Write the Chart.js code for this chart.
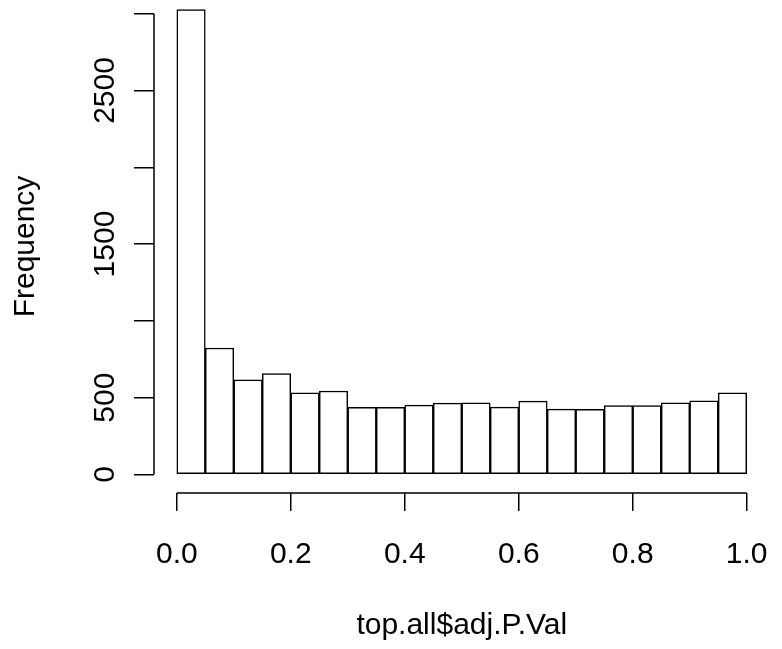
<!DOCTYPE html>
<html>
<head>
<meta charset="utf-8">
<script src="https://cdn.jsdelivr.net/npm/chart.js@4"></script>
<style>
  html, body { margin: 0; padding: 0; background: #fff; }
  #wrap { width: 782px; height: 649px; }
</style>
</head>
<body>
<div id="wrap"><canvas id="chart"></canvas></div>
<script>
// histogram of top.all$adj.P.Val, 20 bins of width 0.05
const binEdges = [0, 0.05, 0.1, 0.15, 0.2, 0.25, 0.3, 0.35, 0.4, 0.45, 0.5,
                  0.55, 0.6, 0.65, 0.7, 0.75, 0.8, 0.85, 0.9, 0.95, 1.0];
const counts = [3026, 823, 616, 656, 532, 543, 436, 436, 451, 464,
                466, 438, 477, 425, 423, 449, 449, 466, 479, 532];

const yTicks = [0, 500, 1000, 1500, 2000, 2500, 3000];
const yTickLabels = ['0', '500', '', '1500', '', '2500', ''];
const xTicks = [0, 0.2, 0.4, 0.6, 0.8, 1.0];
const xTickLabels = ['0.0', '0.2', '0.4', '0.6', '0.8', '1.0'];

const FONT = "'Liberation Sans', Arial, sans-serif";

const bars = counts.map((c, i) => ({ x: (binEdges[i] + binEdges[i + 1]) / 2, y: c }));

// R style axis lines: only from first to last tick
const axisLines = {
  id: 'axisLines',
  afterDraw(chart) {
    const { ctx, chartArea, scales } = chart;
    ctx.save();
    ctx.strokeStyle = '#000';
    ctx.lineWidth = 1.5;
    ctx.beginPath();
    ctx.moveTo(scales.x.getPixelForValue(xTicks[0]), chartArea.bottom);
    ctx.lineTo(scales.x.getPixelForValue(xTicks[xTicks.length - 1]), chartArea.bottom);
    ctx.moveTo(chartArea.left, scales.y.getPixelForValue(yTicks[0]));
    ctx.lineTo(chartArea.left, scales.y.getPixelForValue(yTicks[yTicks.length - 1]));
    ctx.stroke();
    ctx.restore();
  }
};

new Chart(document.getElementById('chart'), {
  type: 'bar',
  data: {
    datasets: [{
      data: bars,
      backgroundColor: '#fff',
      borderColor: '#000',
      borderWidth: 1.5,
      borderSkipped: false,
      barPercentage: 1,
      categoryPercentage: 1
    }]
  },
  plugins: [axisLines],
  options: {
    responsive: true,
    maintainAspectRatio: false,
    animation: false,
    layout: { padding: { top: 0, right: 12.5, left: 0, bottom: 0 } },
    plugins: { legend: { display: false }, tooltip: { enabled: false } },
    scales: {
      x: {
        type: 'linear',
        min: -0.04,
        max: 1.04,
        offset: false,
        border: { display: false },
        grid: { offset: false, drawOnChartArea: false, drawTicks: true, tickLength: 18, color: '#000', lineWidth: 1.5 },
        afterBuildTicks: s => { s.ticks = xTicks.map(v => ({ value: v })); },
        ticks: {
          autoSkip: false,
          maxRotation: 0,
          padding: 26,
          color: '#000',
          font: { family: FONT, size: 30 },
          callback: (v) => xTickLabels[xTicks.indexOf(v)]
        },
        title: {
          display: true,
          text: 'top.all$adj.P.Val',
          color: '#000',
          font: { family: FONT, size: 30 },
          padding: { top: 0, bottom: 5 }
        },
        afterFit: s => { s.height = 156; s.paddingLeft = 0; s.paddingRight = 0; }
      },
      y: {
        min: -121,
        max: 3089,
        border: { display: false },
        grid: { offset: false, drawOnChartArea: false, drawTicks: true, tickLength: 20, color: '#000', lineWidth: 1.5 },
        afterBuildTicks: s => { s.ticks = yTicks.map(v => ({ value: v })); },
        ticks: {
          autoSkip: false,
          minRotation: 90,
          maxRotation: 90,
          crossAlign: 'center',
          padding: -5,
          color: '#000',
          font: { family: FONT, size: 30 },
          callback: (v) => yTickLabels[yTicks.indexOf(v)]
        },
        title: {
          display: true,
          text: 'Frequency',
          color: '#000',
          font: { family: FONT, size: 30 },
          padding: { top: 8, bottom: 0 }
        },
        afterFit: s => { s.width = 154; s.paddingTop = 0; s.paddingBottom = 0; }
      }
    }
  }
});
</script>
</body>
</html>
